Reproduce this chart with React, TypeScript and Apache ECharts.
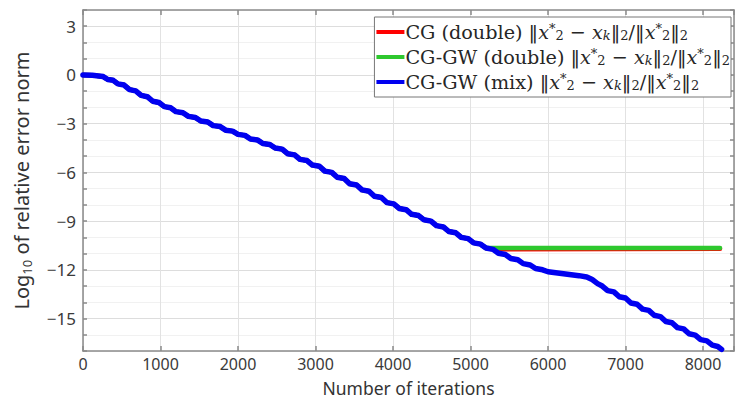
import React, { useEffect, useRef } from "react";
import * as echarts from "echarts";

// ---- data ----
const iterMix = [
  0, 120, 200, 260, 320, 390, 450, 530, 600, 680, 750, 830, 900, 980, 1050, 1130,
  1200, 1290, 1360, 1450, 1520, 1610, 1680, 1770, 1840, 1930, 2000, 2090, 2160, 2250,
  2320, 2410, 2480, 2570, 2640, 2730, 2800, 2890, 2960, 3050, 3120, 3210, 3280, 3370,
  3440, 3530, 3600, 3690, 3760, 3850, 3920, 4010, 4080, 4170, 4240, 4330, 4400, 4490,
  4560, 4650, 4720, 4810, 4880, 4970, 5040, 5130, 5200, 5290, 5360, 5450, 5520, 5610,
  5680, 5770, 5840, 5930, 6000, 6100, 6200, 6300, 6400, 6500, 6570, 6640, 6700, 6770,
  6850, 6920, 7000, 7070, 7150, 7220, 7300, 7370, 7450, 7520, 7600, 7670, 7750, 7820,
  7900, 7970, 8050, 8120, 8190, 8240,
];
const errMix = [
  0.0, -0.02, -0.06, -0.1, -0.28, -0.33, -0.55, -0.62, -0.9, -0.98, -1.26, -1.34, -1.62, -1.7, -1.95, -2.02,
  -2.26, -2.33, -2.55, -2.62, -2.84, -2.9, -3.12, -3.18, -3.4, -3.46, -3.66, -3.72, -3.94, -4.0,
  -4.22, -4.28, -4.5, -4.57, -4.85, -4.92, -5.2, -5.27, -5.55, -5.62, -5.92, -6.0, -6.3, -6.38,
  -6.7, -6.78, -7.08, -7.16, -7.47, -7.55, -7.86, -7.94, -8.22, -8.3, -8.58, -8.66, -8.92, -9.0,
  -9.28, -9.36, -9.64, -9.72, -10.0, -10.08, -10.34, -10.42, -10.66, -10.74, -10.98, -11.06, -11.3, -11.38,
  -11.62, -11.7, -11.92, -12.0, -12.12, -12.18, -12.24, -12.3, -12.36, -12.44, -12.6, -12.85, -13.0, -13.28,
  -13.36, -13.66, -13.74, -14.04, -14.12, -14.42, -14.5, -14.8, -14.88, -15.18, -15.26, -15.56, -15.64, -15.94,
  -16.02, -16.3, -16.38, -16.64, -16.72, -16.9,
];
// the double-precision runs follow the mixed run until they stagnate
const stagnationIter = 5290;
const lastIterDouble = 8220;
const cgDoubleFloor = -10.71;
const cgGwDoubleFloor = -10.66;

const seriesNames = ["CG (double)", "CG-GW (double)", "CG-GW (mix)"];
const seriesColors = ["#ff0000", "#2ec82e", "#0000f0"];
const xTicks = [0, 1000, 2000, 3000, 4000, 5000, 6000, 7000, 8000];
const yTicks = [3, 0, -3, -6, -9, -12, -15];

const mixData = iterMix.map((x, i) => [x, errMix[i]]);
const prefix = mixData.filter((p) => p[0] <= stagnationIter);
const cgDoubleData = [...prefix, [lastIterDouble, cgDoubleFloor]];
const cgGwDoubleData = [...prefix.slice(0, -1), [stagnationIter, cgGwDoubleFloor], [lastIterDouble, cgGwDoubleFloor]];

const SERIF = "'DejaVu Serif', 'Liberation Serif', serif";
const SANS = "'Noto Sans', 'DejaVu Sans', sans-serif";
const mathTail =
  "{n|‖}{i|x}{sp|*}{sb|2}{n| − }{i|x}{sbi|k}{n|‖}{sb|2}{n|/‖}{i|x}{sp|*}{sb|2}{n|‖}{sb|2}";

function fmtMinus(v: number) {
  return v < 0 ? "−" + Math.abs(v) : String(v);
}

export default function App() {
  const ref = useRef<HTMLDivElement>(null);
  useEffect(() => {
    const chart = echarts.init(ref.current!, undefined, { renderer: "svg" });
    const axisLineStyle = { color: "#8a8a8a", width: 1.5 };
    const gridColors = ["#f1f1f1", "#f1f1f1", "#dddddd"];
    const TXT = "#262626";
    const LFS = 19.2;
    const SFS = 13;
    chart.setOption({
      animation: false,
      backgroundColor: "#ffffff",
      grid: {
        left: 83,
        right: 1,
        top: 10,
        bottom: 50,
        containLabel: false,
        outerBoundsMode: "none",
      },
      legend: {
        data: seriesNames,
        orient: "vertical",
        right: 4,
        top: 17,
        icon: "rect",
        itemWidth: 28,
        itemHeight: 4,
        itemGap: 5,
        padding: [5, 1, 5, 2],
        backgroundColor: "#ffffff",
        borderColor: "#777777",
        borderWidth: 1,
        borderRadius: 0,
        formatter: (name: string) => `{n|${name} }` + mathTail,
        textStyle: {
          fontFamily: SERIF,
          fontSize: LFS,
          color: TXT,
          padding: [0, 0, 0, -4],
          rich: {
            n: { fontFamily: SERIF, fontSize: LFS, color: TXT },
            i: { fontFamily: SERIF, fontSize: LFS, fontStyle: "italic", color: TXT },
            sb: { fontFamily: SERIF, fontSize: SFS, color: TXT, padding: [7, 0, 0, 0] },
            sbi: { fontFamily: SERIF, fontSize: SFS, fontStyle: "italic", color: TXT, padding: [7, 0, 0, 0] },
            sp: { fontFamily: SERIF, fontSize: SFS, color: TXT, padding: [0, 0, 7, 0] },
          },
        },
      },
      xAxis: [
        {
          type: "value",
          min: 0,
          max: 8400,
          interval: 1000,
          position: "bottom",
          name: "Number of iterations",
          nameLocation: "middle",
          nameGap: 28,
          nameMoveOverlap: false,
          nameTextStyle: { fontFamily: SANS, fontSize: 17.5, lineHeight: 18, color: "#333333" },
          axisLine: { show: true, onZero: false, lineStyle: axisLineStyle },
          axisTick: { show: true, inside: true, length: 5, lineStyle: axisLineStyle },
          axisLabel: {
            margin: 5,
            fontFamily: SANS,
            fontSize: 16,
            color: "#3a3a3a",
            formatter: (v: number) => (xTicks.includes(v) ? String(v) : ""),
          },
          splitLine: { show: true, lineStyle: { color: "#e2e2e2", width: 1 } },
        },
        {
          type: "value",
          min: 0,
          max: 8400,
          interval: 1000,
          position: "top",
          axisLine: { show: true, onZero: false, lineStyle: axisLineStyle },
          axisTick: { show: true, inside: true, length: 5, lineStyle: axisLineStyle },
          axisLabel: { show: false },
          splitLine: { show: false },
        },
      ],
      yAxis: [
        {
          type: "value",
          min: -17,
          max: 4,
          interval: 1,
          position: "left",
          name: "{n|Log}{sb|10}{n| of relative error norm}",
          nameLocation: "middle",
          nameRotate: 90,
          nameGap: 50,
          nameMoveOverlap: false,
          nameTextStyle: {
            fontFamily: SANS,
            fontSize: 20,
            color: "#333333",
            rich: {
              n: { fontFamily: SANS, fontSize: 20, color: "#333333" },
              sb: { fontFamily: SANS, fontSize: 13, color: "#333333", padding: [10, 0, 0, 0] },
            },
          },
          axisLine: { show: true, onZero: false, lineStyle: axisLineStyle },
          axisTick: { show: true, inside: true, length: 4, lineStyle: axisLineStyle },
          axisLabel: {
            margin: 7,
            fontFamily: SANS,
            fontSize: 17,
            color: "#3a3a3a",
            formatter: (v: number) => (yTicks.includes(v) ? fmtMinus(v) : ""),
          },
          splitLine: { show: true, lineStyle: { color: gridColors, width: 1 } },
        },
        {
          type: "value",
          min: -17,
          max: 4,
          interval: 1,
          position: "right",
          axisLine: { show: true, onZero: false, lineStyle: axisLineStyle },
          axisTick: { show: true, inside: true, length: 4, lineStyle: axisLineStyle },
          axisLabel: { show: false },
          splitLine: { show: false },
        },
      ],
      series: [
        {
          name: seriesNames[0],
          type: "line",
          data: cgDoubleData,
          showSymbol: false,
          color: seriesColors[0],
          lineStyle: { width: 4.5, color: seriesColors[0], cap: "round", join: "round" },
        },
        {
          name: seriesNames[1],
          type: "line",
          data: cgGwDoubleData,
          showSymbol: false,
          color: seriesColors[1],
          lineStyle: { width: 4.5, color: seriesColors[1], cap: "round", join: "round" },
        },
        {
          name: seriesNames[2],
          type: "line",
          data: mixData,
          showSymbol: false,
          color: seriesColors[2],
          lineStyle: { width: 5.5, color: seriesColors[2], cap: "round", join: "round" },
        },
      ],
    });
    return () => chart.dispose();
  }, []);
  return (
    <div
      ref={ref}
      style={{ position: "fixed", left: 0, top: 0, width: 735, height: 401, background: "#fff" }}
    />
  );
}
